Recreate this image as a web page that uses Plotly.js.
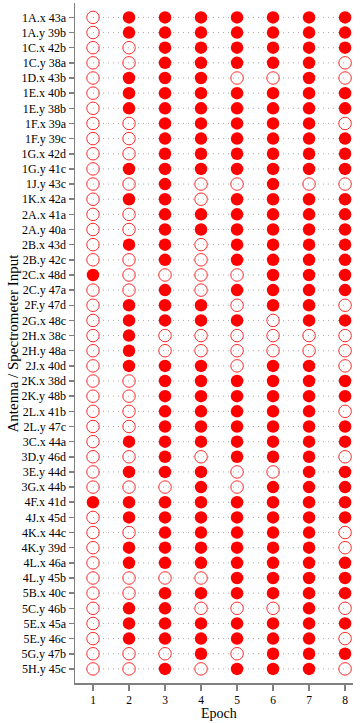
<!DOCTYPE html>
<html>
<head>
<meta charset="utf-8">
<script src="https://cdn.plot.ly/plotly-3.0.1.min.js"></script>
<style>html,body{margin:0;padding:0;background:#fff;}#chart{width:360px;height:723px;}</style>
</head>
<body>
<div id="chart"></div>
<script>
// Antenna / spectrometer inputs (top to bottom)
const inputs = [
  "1A.x 43a","1A.y 39b","1C.x 42b","1C.y 38a","1D.x 43b","1E.x 40b","1E.y 38b","1F.x 39a",
  "1F.y 39c","1G.x 42d","1G.y 41c","1J.y 43c","1K.x 42a","2A.x 41a","2A.y 40a","2B.x 43d",
  "2B.y 42c","2C.x 48d","2C.y 47a","2F.y 47d","2G.x 48c","2H.x 38c","2H.y 48a","2J.x 40d",
  "2K.x 38d","2K.y 48b","2L.x 41b","2L.y 47c","3C.x 44a","3D.y 46d","3E.y 44d","3G.x 44b",
  "4F.x 41d","4J.x 45d","4K.x 44c","4K.y 39d","4L.x 46a","4L.y 45b","5B.x 40c","5C.y 46b",
  "5E.x 45a","5E.y 46c","5G.y 47b","5H.y 45c"
];
const epochs = [1,2,3,4,5,6,7,8];
// 1 = filled (good), 0 = open, one array per epoch, same order as inputs
const epoch1 = [0,0,0,0,0,0,0,0,0,0,0,0,0,0,0,0,0,1,0,0,0,0,0,0,0,0,0,0,0,0,0,0,1,0,0,0,0,0,0,0,0,0,0,0];
const epoch2 = [1,1,0,0,1,1,1,0,0,0,1,0,1,0,0,1,0,0,0,1,1,1,1,1,0,0,0,0,1,0,1,0,1,1,0,1,1,0,0,1,1,1,0,0];
const epoch3 = [1,1,1,1,1,1,1,1,1,1,1,1,1,1,1,1,1,0,1,1,1,0,0,1,1,1,1,1,1,1,1,0,1,1,1,1,1,0,1,1,1,1,0,1];
const epoch4 = [1,1,1,1,1,1,1,1,1,1,1,0,0,1,1,0,0,0,0,1,1,0,0,1,1,1,1,1,1,0,1,1,1,1,1,1,1,0,1,0,1,1,1,0];
const epoch5 = [1,1,1,1,0,1,1,1,1,1,1,0,1,1,1,1,1,0,1,0,1,0,0,0,1,1,1,1,1,1,0,0,1,1,1,1,1,1,1,0,1,1,0,1];
const epoch6 = [1,1,1,1,0,1,1,1,1,1,1,1,1,1,1,1,1,1,1,1,0,0,0,1,1,1,1,1,1,1,0,1,1,1,1,1,1,1,1,0,1,1,1,1];
const epoch7 = [1,1,1,1,1,1,1,1,1,1,1,0,1,1,1,1,1,1,1,1,1,0,0,1,1,1,1,1,1,1,1,1,1,1,1,1,1,1,1,1,1,1,1,1];
const epoch8 = [1,1,1,0,0,1,1,0,1,1,1,0,1,1,1,1,1,1,1,0,1,0,0,0,1,1,0,1,1,0,1,1,1,1,0,0,1,1,1,0,1,0,1,0];
const status = [epoch1,epoch2,epoch3,epoch4,epoch5,epoch6,epoch7,epoch8];
const xTitle = 'Epoch';
const yTitle = 'Antenna / Spectrometer Input';

const fx=[],fy=[],ox=[],oy=[],lx=[],ly=[];
inputs.forEach(name=>{
  epochs.forEach(e=>{lx.push(e);ly.push(name);});
  lx.push(null);ly.push(null);
});
status.forEach((col,i)=>{
  col.forEach((v,j)=>{
    if(v){fx.push(epochs[i]);fy.push(inputs[j]);}
    else {ox.push(epochs[i]);oy.push(inputs[j]);}
  });
});
const font = {family:'"Liberation Serif", "DejaVu Serif", serif', color:'#000'};
const traces = [
  {type:'scatter',mode:'lines',x:lx,y:ly,showlegend:false,hoverinfo:'skip',connectgaps:false,
   line:{color:'#a8a8a8',width:1,dash:'1px,4px'}},
  {type:'scatter',mode:'markers',x:ox,y:oy,showlegend:false,hoverinfo:'x+y',
   marker:{symbol:'circle-open',size:12.5,color:'#ff2a2a',line:{width:1,color:'#ff2a2a'}}},
  {type:'scatter',mode:'markers',x:fx,y:fy,showlegend:false,hoverinfo:'x+y',
   marker:{symbol:'circle',size:12.5,color:'#ff0000',line:{width:0}}}
];
const layout = {
  width:360,height:723,
  margin:{l:75,r:7,t:3,b:40},
  paper_bgcolor:'#fff',plot_bgcolor:'#fff',
  font:Object.assign({size:12},font),
  xaxis:{range:[0.5,8.22],tickvals:epochs,ticktext:epochs.map(String),
    showgrid:false,zeroline:false,showline:true,linecolor:'#808080',linewidth:1.5,
    ticks:'outside',ticklen:6,tickwidth:1.5,tickcolor:'#808080',
    tickfont:Object.assign({size:11.5},font)},
  yaxis:{type:'category',categoryorder:'array',categoryarray:inputs,
    range:[43.93,-0.95],showgrid:false,
    zeroline:false,showline:true,linecolor:'#808080',linewidth:1.5,
    ticks:'outside',ticklen:5,tickwidth:1.5,tickcolor:'#808080',
    tickfont:Object.assign({size:12},font)},
  annotations:[
    {text:xTitle,xref:'paper',yref:'paper',x:0.518,y:0,xanchor:'center',yanchor:'top',
     yshift:-22,borderpad:0,showarrow:false,font:Object.assign({size:14},font)},
    {text:yTitle,xref:'paper',yref:'paper',x:0,y:0.5,xanchor:'center',yanchor:'middle',
     xshift:-62.5,textangle:-90,showarrow:false,font:Object.assign({size:15},font)}
  ]
};
Plotly.newPlot('chart',traces,layout,{displayModeBar:false,staticPlot:true});
</script>
</body>
</html>
